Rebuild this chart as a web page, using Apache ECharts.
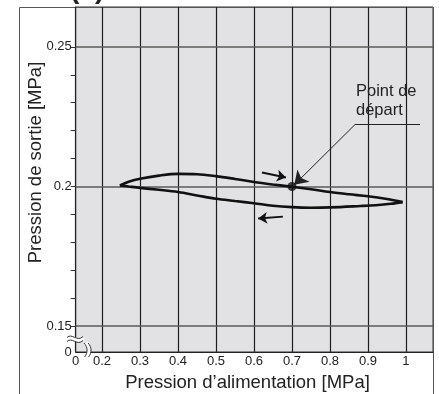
<!DOCTYPE html>
<html><head><meta charset="utf-8">
<script src="https://cdn.jsdelivr.net/npm/echarts@6/dist/echarts.min.js"></script>
<style>html,body{margin:0;padding:0;background:#fff}#c{width:439px;height:394px}</style>
</head><body><div id="c"></div>
<script>
// Upper branch (increasing supply pressure), left tip -> right tip
const upperX = [0.247, 0.27, 0.30, 0.35, 0.40, 0.45, 0.50, 0.55, 0.60, 0.65, 0.70, 0.75, 0.80, 0.85, 0.90, 0.95, 0.991];
const upperY = [0.2004, 0.2017, 0.2028, 0.2039, 0.2045, 0.2044, 0.2037, 0.2027, 0.2016, 0.2007, 0.1999, 0.1990, 0.1980, 0.1972, 0.1965, 0.1955, 0.1944];
// Lower branch (decreasing supply pressure), right tip -> left tip
const lowerX = [0.991, 0.96, 0.92, 0.88, 0.80, 0.75, 0.70, 0.65, 0.60, 0.55, 0.50, 0.45, 0.40, 0.35, 0.30, 0.27, 0.247];
const lowerY = [0.1944, 0.1938, 0.1933, 0.1930, 0.1925, 0.1924, 0.1926, 0.1931, 0.1940, 0.1948, 0.1956, 0.1968, 0.1980, 0.1988, 0.1995, 0.2000, 0.2004];
const startPoint = [0.70, 0.20];
const startLabel = 'Point de\ndépart';
const xTitle = 'Pression d’alimentation [MPa]';
const yTitle = 'Pression de sortie [MPa]';
const xTicks = [0.2, 0.3, 0.4, 0.5, 0.6, 0.7, 0.8, 0.9, 1.0];
const yTicks = [0.15, 0.16, 0.17, 0.18, 0.19, 0.20, 0.21, 0.22, 0.23, 0.24, 0.25];
const yMajor = [0.15, 0.20, 0.25];
const xMin = 0.1307, xMax = 1.0711, yMin = 0.1407, yMax = 0.2643;
// direction arrows [from, to]
const arrowUp = [[0.621, 0.2050], [0.684, 0.2032]];
const arrowDown = [[0.676, 0.1892], [0.611, 0.1885]];
const leaderFlat = [[1.037, 0.2222], [0.866, 0.2222]];
const leaderArrow = [[0.866, 0.2222], [0.706, 0.2006]];

const zip = (a, b) => a.map((v, i) => [v, b[i]]);
const chart = echarts.init(document.getElementById('c'), null, {renderer: 'canvas'});
const FONT = "'Liberation Sans', Arial, Helvetica, sans-serif";
const NARROW = "'Liberation Sans Narrow', 'Liberation Sans', Arial, sans-serif";
const fmt = v => (v < 0.145 ? '0' : String(+(+v).toFixed(2)));

chart.setOption({
  animation: false,
  backgroundColor: '#ffffff',
  grid: {left: 75.7, right: 6, top: 7, bottom: 42, show: true, backgroundColor: '#e2e2e4', borderColor: '#333', borderWidth: 1},
  xAxis: {
    type: 'value', min: xMin, max: xMax,
    axisLine: {show: true, lineStyle: {color: '#222', width: 1.2}},
    axisTick: {show: false},
    splitLine: {show: false},
    axisLabel: {customValues: [xMin].concat(xTicks), formatter: fmt, color: '#222', fontSize: 13, fontFamily: FONT, margin: 3}
  },
  yAxis: {
    type: 'value', min: yMin, max: yMax,
    axisLine: {show: true, lineStyle: {color: '#222', width: 1.2}},
    axisTick: {show: true, customValues: yTicks, length: 5, inside: false, lineStyle: {color: '#333', width: 1}},
    splitLine: {show: false},
    axisLabel: {customValues: [yMin].concat(yMajor), formatter: fmt, color: '#222', fontSize: 13, fontFamily: NARROW, margin: 4}
  },
  series: [
    {
      name: 'grid', type: 'line', data: [], z: 1, silent: true,
      markLine: {
        silent: true, symbol: ['none', 'none'], label: {show: false}, animation: false,
        data: xTicks.map(v => ({xAxis: v, lineStyle: {color: '#1e1e1e', width: 1.2, type: 'solid'}}))
          .concat(yMajor.map(v => ({yAxis: v, lineStyle: {color: '#5a5a5a', width: 1.6, type: 'solid'}})))
      }
    },
    {name: 'montée', type: 'line', data: zip(upperX, upperY), smooth: 0.35, showSymbol: false, z: 5,
     lineStyle: {color: '#111', width: 2.6}},
    {name: 'descente', type: 'line', data: zip(lowerX, lowerY), smooth: 0.35, showSymbol: false, z: 5,
     lineStyle: {color: '#111', width: 2.6}},
    {name: 'départ', type: 'scatter', data: [startPoint], symbolSize: 9, z: 6, itemStyle: {color: '#111'}},
    {name: 'flèches', type: 'lines', coordinateSystem: 'cartesian2d', z: 6,
     symbol: ['none', 'arrow'], symbolSize: 9,
     lineStyle: {color: '#111', width: 2, opacity: 1},
     data: [{coords: arrowUp}, {coords: arrowDown}]},
    {name: 'repère', type: 'lines', coordinateSystem: 'cartesian2d', z: 6,
     symbol: ['none', 'none'],
     lineStyle: {color: '#222', width: 1, opacity: 1},
     data: [{coords: leaderFlat}]},
    {name: 'repère2', type: 'lines', coordinateSystem: 'cartesian2d', z: 6,
     symbol: ['none', 'arrow'], symbolSize: [6, 13],
     lineStyle: {color: '#222', width: 1, opacity: 1},
     data: [{coords: leaderArrow}]}
  ],
  graphic: [
    {type: 'polyline', shape: {points: [[19.5, 394], [19.5, 7.5], [433.5, 7.5], [433.5, 394]]}, style: {stroke: '#555', lineWidth: 1, fill: null}, z: 0},
    {type: 'text', left: 70, top: -24, style: {text: '(1)', font: 'bold 28px ' + FONT, fill: '#222'}, z: 0},
    {type: 'text', left: 356, top: 82.5, style: {text: startLabel, font: '16.5px ' + FONT, lineHeight: 18.5, fill: '#222', align: 'left'}, z: 10},
    {type: 'text', x: 247.5, y: 383, style: {text: xTitle, font: '18.5px ' + FONT, fill: '#222', align: 'center', verticalAlign: 'middle'}, z: 10},
    {type: 'text', x: 36, y: 162.5, rotation: Math.PI / 2, style: {text: yTitle, font: '18.5px ' + FONT, fill: '#222', align: 'center', verticalAlign: 'middle'}, z: 10},
    // axis break marks
    {type: 'bezierCurve', shape: {x1: 67, y1: 339, cpx1: 72, cpy1: 334, cpx2: 77, cpy2: 344, x2: 83, y2: 338}, style: {stroke: '#fff', lineWidth: 4, fill: null}, z: 20},
    {type: 'bezierCurve', shape: {x1: 67, y1: 337.5, cpx1: 72, cpy1: 332.5, cpx2: 77, cpy2: 342.5, x2: 83, y2: 336.5}, style: {stroke: '#333', lineWidth: 1, fill: null}, z: 21},
    {type: 'bezierCurve', shape: {x1: 67, y1: 341.5, cpx1: 72, cpy1: 336.5, cpx2: 77, cpy2: 346.5, x2: 83, y2: 340.5}, style: {stroke: '#333', lineWidth: 1, fill: null}, z: 21},
    {type: 'bezierCurve', shape: {x1: 86, y1: 343, cpx1: 90, cpy1: 347, cpx2: 90, cpy2: 353, x2: 86.5, y2: 357}, style: {stroke: '#fff', lineWidth: 4, fill: null}, z: 20},
    {type: 'bezierCurve', shape: {x1: 84, y1: 343, cpx1: 88, cpy1: 347, cpx2: 88, cpy2: 353, x2: 84.5, y2: 357}, style: {stroke: '#333', lineWidth: 1, fill: null}, z: 21},
    {type: 'bezierCurve', shape: {x1: 88, y1: 343, cpx1: 92, cpy1: 347, cpx2: 92, cpy2: 353, x2: 88.5, y2: 357}, style: {stroke: '#333', lineWidth: 1, fill: null}, z: 21}
  ]
});
</script></body></html>
